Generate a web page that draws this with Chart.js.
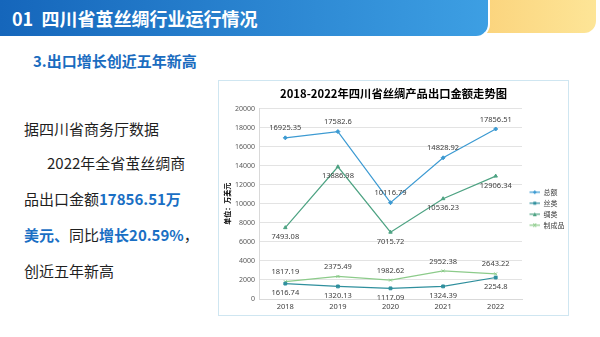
<!DOCTYPE html>
<html lang="zh-CN">
<head>
<meta charset="utf-8">
<script src="https://cdn.jsdelivr.net/npm/chart.js@4.4.1/dist/chart.umd.min.js"></script>
<style>
  html, body { margin: 0; padding: 0; background: #fff; }
  body { width: 600px; height: 337px; position: relative; overflow: hidden;
         font-family: "Noto Sans CJK SC", "Noto Sans", sans-serif; }
  .bar-yellow { position: absolute; left: 470px; top: 0; width: 126px; height: 33px;
                background: linear-gradient(to right, #fbd27a, #fde597); border-bottom-right-radius: 12px; }
  .bar-blue { position: absolute; left: 0; top: 0; width: 488px; height: 36px;
              background: linear-gradient(to right, #1566bb, #3d9fe3);
              border-bottom-right-radius: 14px; border: solid #fff; border-width: 0 2px 2px 0; }
  .bar-blue span { position: absolute; left: 12px; top: 0; line-height: 36px; color: #fff;
                   font-size: 18px; font-weight: bold; white-space: pre; }
  .sub { position: absolute; left: 33px; top: 50px; font-size: 15px; font-weight: bold;
         color: #1a6cbf; line-height: 22px; }
  .txt { position: absolute; left: 24px; font-size: 15px; color: #1f1f1f; line-height: 20px; white-space: nowrap; }
  .txt b { color: #1a6fc4; }
  .card { position: absolute; left: 218px; top: 80px; width: 349px; height: 234px;
          border: 1.5px solid #cfe6f1; }
  #chart { position: absolute; left: 0; top: 0; }
</style>
</head>
<body>
<div class="bar-yellow"></div>
<div class="bar-blue"><span>01  四川省茧丝绸行业运行情况</span></div>
<div class="sub">3.出口增长创近五年新高</div>

<div class="txt" style="top:119px">据四川省商务厅数据</div>
<div class="txt" style="top:153px; left:47px">2022年全省茧丝绸商</div>
<div class="txt" style="top:189px">品出口金额<b>17856.51万</b></div>
<div class="txt" style="top:225px"><b>美元、</b>同比<b>增长20.59%</b>，</div>
<div class="txt" style="top:261px">创近五年新高</div>

<div class="card"><canvas id="chart" width="349" height="234"></canvas></div>

<script>
// 2018-2022 四川省丝绸产品出口金额（万美元）
const years = ['2018', '2019', '2020', '2021', '2022'];
const seriesNames = ['总额', '丝类', '绸类', '制成品'];
const totalValues = [16925.35, 17582.6, 10116.79, 14828.92, 17856.51];
const silkValues = [1616.74, 1320.13, 1117.09, 1324.39, 2254.8];
const fabricValues = [7493.08, 13886.98, 7015.72, 10536.23, 12906.34];
const productValues = [1817.19, 2375.49, 1982.62, 2952.38, 2643.22];
const yTicks = [0, 2000, 4000, 6000, 8000, 10000, 12000, 14000, 16000, 18000, 20000];

const colors = ['#3c9ad2', '#2f8f9d', '#4ea383', '#8ccb8a'];
const markers = ['rectRot', 'rect', 'triangle', 'crossRot'];
// label above (-1) or below (+1) the point
const labelSide = [-1, 1, 1, -1];

// legend icon: short line with the series marker in the middle
function legendIcon(color, style) {
  const c = document.createElement('canvas');
  c.width = 14; c.height = 6;
  const g = c.getContext('2d');
  g.strokeStyle = color; g.fillStyle = color; g.lineWidth = 1.2;
  g.beginPath(); g.moveTo(3.5, 3); g.lineTo(14, 3); g.stroke();
  g.beginPath();
  if (style === 'rect') g.rect(7.3, 1.5, 3, 3);
  else if (style === 'rectRot') { g.moveTo(8.8, 1); g.lineTo(10.8, 3); g.lineTo(8.8, 5); g.lineTo(6.8, 3); }
  else if (style === 'triangle') { g.moveTo(8.8, 1); g.lineTo(10.8, 5); g.lineTo(6.8, 5); }
  else { g.moveTo(7.3, 1.5); g.lineTo(10.3, 4.5); g.moveTo(10.3, 1.5); g.lineTo(7.3, 4.5); g.stroke(); }
  g.fill();
  return c;
}

const valueLabels = {
  id: 'valueLabels',
  afterDatasetsDraw(chart) {
    const ctx = chart.ctx;
    ctx.save();
    ctx.font = '7.5px "Noto Sans", sans-serif';
    ctx.fillStyle = '#404040';
    ctx.textAlign = 'center';
    ctx.textBaseline = 'middle';
    chart.data.datasets.forEach((ds, i) => {
      chart.getDatasetMeta(i).data.forEach((pt, j) => {
        ctx.fillText(String(ds.data[j]), pt.x, pt.y + labelSide[i] * 9.5);
      });
    });
    ctx.restore();
  }
};

const seriesData = [totalValues, silkValues, fabricValues, productValues];

new Chart(document.getElementById('chart'), {
  type: 'line',
  data: {
    labels: years,
    datasets: seriesData.map((d, i) => ({
      label: seriesNames[i],
      data: d,
      borderColor: colors[i],
      backgroundColor: colors[i],
      borderWidth: 1.2,
      pointStyle: markers[i],
      pointRadius: 2,
      pointBorderWidth: 1,
      tension: 0,
      fill: false
    }))
  },
  options: {
    responsive: false,
    animation: false,
    layout: { padding: { left: 0, right: 0, top: 0, bottom: 1 } },
    plugins: {
      title: {
        display: true,
        text: '2018-2022年四川省丝绸产品出口金额走势图',
        color: '#000',
        font: { size: 11.3, weight: 'bold', family: '"Noto Sans CJK SC", sans-serif' },
        padding: { top: 6, bottom: 8 }
      },
      legend: {
        position: 'right',
        maxWidth: 46,
        title: { display: true, text: ' ', font: { size: 7 }, padding: { top: 14, bottom: 0 } },
        labels: {
          usePointStyle: true,
          pointStyleWidth: 14,
          boxHeight: 6,
          padding: 4,
          color: '#404040',
          font: { size: 7, family: '"Noto Sans CJK SC", sans-serif' },
          generateLabels(chart) {
            return chart.data.datasets.map((ds, i) => ({
              text: ds.label,
              pointStyle: legendIcon(colors[i], markers[i]),
              fillStyle: colors[i],
              strokeStyle: colors[i],
              lineWidth: 0,
              fontColor: '#404040',
              datasetIndex: i
            }));
          }
        }
      },
      tooltip: { enabled: false }
    },
    scales: {
      x: {
        offset: true,
        grid: { display: false, drawTicks: false },
        border: { color: '#d9d9d9' },
        ticks: { color: '#404040', padding: 3, font: { size: 7.5, family: '"Noto Sans", sans-serif' } }
      },
      y: {
        min: 0,
        max: 20000,
        afterBuildTicks(scale) { scale.ticks = yTicks.map(v => ({ value: v })); },
        grid: { color: '#e3e3e3', drawTicks: false },
        border: { color: '#d9d9d9' },
        ticks: {
          color: '#595959', padding: 4,
          font: { size: 7, family: '"Noto Sans", sans-serif' },
          callback: v => String(v)
        },
        title: {
          display: true,
          text: '单位：万美元',
          color: '#000',
          font: { size: 7, weight: 'bold', family: '"Noto Sans CJK SC", sans-serif' },
          padding: { top: 4, bottom: 0 }
        },
        afterFit(scale) { scale.width = 40; }
      }
    }
  },
  plugins: [valueLabels]
});
</script>
</body>
</html>
